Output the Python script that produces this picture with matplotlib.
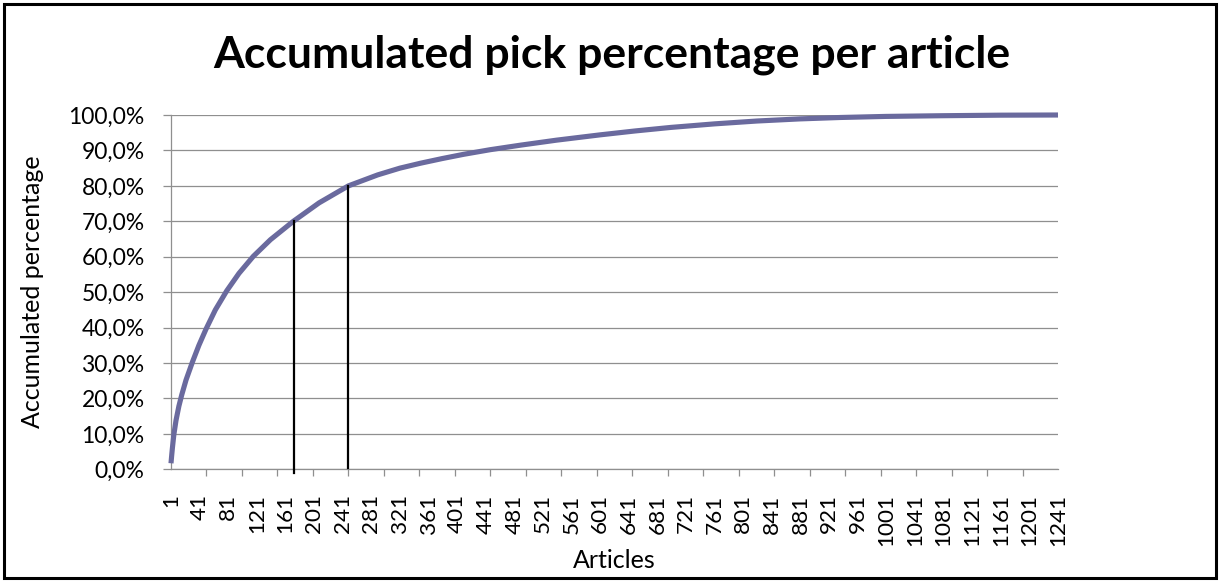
import numpy as np
import matplotlib
matplotlib.use("Agg")
import matplotlib.pyplot as plt
from matplotlib.patches import Rectangle
from matplotlib.ticker import FuncFormatter

plt.rcParams['font.family'] = ['Lato', 'DejaVu Sans']

# Accumulated pick share (fraction) at sampled article ranks
articles = [1, 2, 3, 5, 8, 12, 16, 22, 31, 40, 50, 63, 79, 96, 116, 140,
            172, 208, 249, 290, 321, 350, 380, 410, 447, 490, 540, 601,
            650, 700, 761, 820, 880, 937, 1000, 1080, 1160, 1241]
accumulated = [0.017, 0.040, 0.061, 0.098, 0.138, 0.178, 0.210, 0.252,
               0.303, 0.350, 0.396, 0.450, 0.504, 0.553, 0.601, 0.648,
               0.700, 0.752, 0.800, 0.831, 0.850, 0.864, 0.877, 0.889,
               0.902, 0.915, 0.929, 0.944, 0.955, 0.965, 0.975, 0.983,
               0.989, 0.993, 0.996, 0.998, 0.9995, 1.000]

# Reference markers: article rank where 70 % and 80 % of picks are reached
marker_articles = [173, 249]
marker_levels = [0.70, 0.80]

n_articles = 1241
label_articles = list(range(1, n_articles + 1, 40))
y_ticks = [i / 10 for i in range(11)]

title = "Accumulated pick percentage per article"
x_label = "Articles"
y_label = "Accumulated percentage"

W, H, DPI = 1219, 581, 100
fig = plt.figure(figsize=(W / DPI, H / DPI), dpi=DPI)
ax = fig.add_axes([171 / W, 1 - 469.3 / H, (1058 - 171) / W, (469.3 - 115) / H])

grid_c = "#8f8f8f"
ax.plot(articles, accumulated, color="#6a6a9e", lw=3.7, solid_capstyle="butt",
        solid_joinstyle="round", zorder=3, clip_on=False)

bottoms = [-0.011, 0.005]
for xa, lv, b in zip(marker_articles, marker_levels, bottoms):
    ax.plot([xa, xa], [b, lv], color="black", lw=1.6, zorder=4, clip_on=False)

ax.set_xlim(1, n_articles)
ax.set_ylim(0, 1)

ax.set_yticks(y_ticks)
ax.yaxis.set_major_formatter(FuncFormatter(lambda v, p: f"{v * 100:.1f}%".replace(".", ",")))
ax.grid(axis="y", color=grid_c, lw=0.9)
ax.set_axisbelow(True)

ax.set_xticks(label_articles)
ax.set_xticklabels([str(v) for v in label_articles], rotation=90)
ax.set_xticks(np.linspace(1, n_articles, 26)[:-1], minor=True)

ax.tick_params(axis="x", which="major", length=0, pad=18, labelsize=16.2)
ax.tick_params(axis="x", which="minor", length=5, width=0.9, color=grid_c, direction="out")
ax.tick_params(axis="y", which="major", length=6, width=0.9, color=grid_c, pad=13, labelsize=16.5)

for side in ["top", "right"]:
    ax.spines[side].set_visible(False)
for side in ["left", "bottom"]:
    ax.spines[side].set_color(grid_c)
    ax.spines[side].set_linewidth(0.9)

fig.text(612 / W, 1 - 55 / H, title, ha="center", va="center",
         fontsize=32, fontweight="bold")
fig.text(614 / W, 1 - 561 / H, x_label, ha="center", va="center", fontsize=18)
fig.text(33 / W, 1 - 292 / H, y_label, ha="center", va="center",
         rotation=90, fontsize=18)

fig.patches.append(Rectangle((3.5 / W, 3.5 / H), (W - 7) / W, (H - 7) / H,
                             transform=fig.transFigure, fill=False,
                             edgecolor="black", lw=2.2))

fig.savefig("out.png", dpi=DPI)
